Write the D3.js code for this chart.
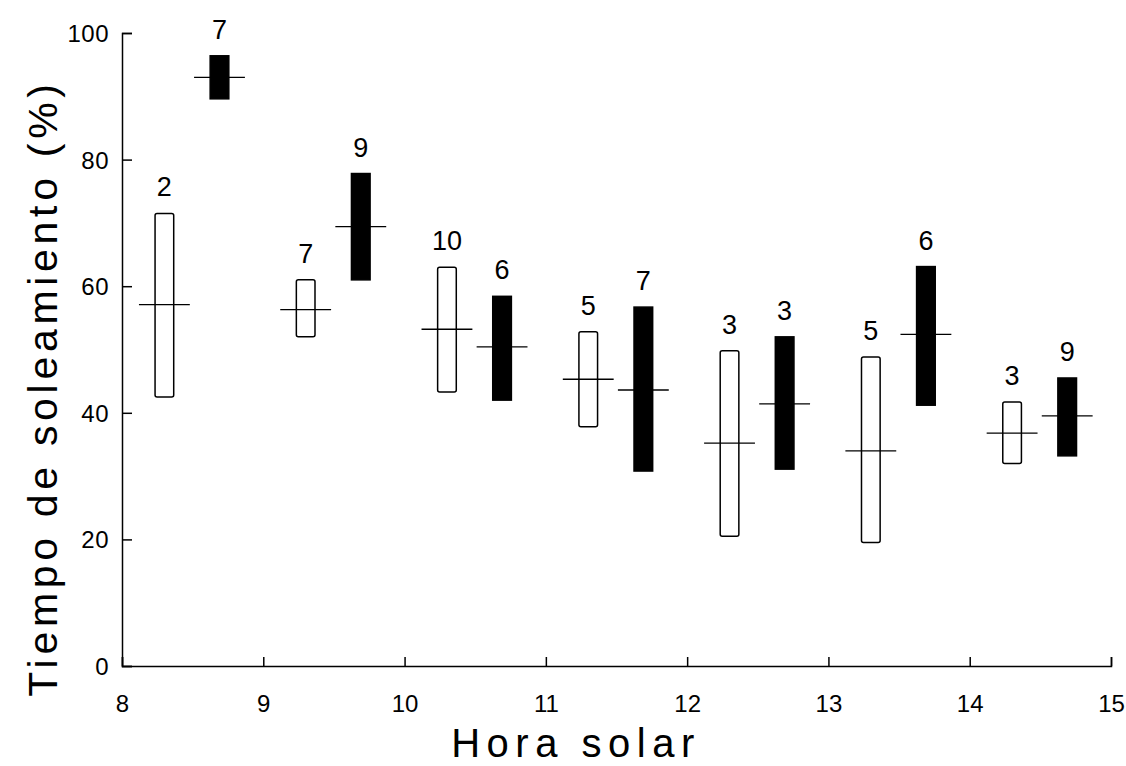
<!DOCTYPE html>
<html>
<head>
<meta charset="utf-8">
<script src="https://cdn.jsdelivr.net/npm/d3@7"></script>
<style>
  html, body { margin: 0; padding: 0; background: #fff; }
  svg { display: block; }
  text { font-family: "Liberation Sans", Arial, Helvetica, sans-serif; fill: #000; }
</style>
</head>
<body>
<svg id="chart" width="1126" height="766"></svg>
<script>
// Sunshine time (%) by solar hour: two groups per hour (open and filled bars)
const hours = [8, 9, 10, 11, 12, 13, 14];

// Open bars (first half of each hour)
const openTop    = [71.5, 61.0, 63.0, 52.8, 49.8, 48.8, 41.7];
const openBottom = [42.5, 52.0, 43.3, 37.8, 20.5, 19.5, 32.0];
const openMid    = [57.1, 56.3, 53.2, 45.3, 35.2, 34.0, 36.8];
const openN      = ["2", "7", "10", "5", "3", "5", "3"];

// Filled bars (second half of each hour)
const fillTop    = [96.4, 77.8, 58.4, 56.7, 52.0, 63.1, 45.5];
const fillBottom = [89.6, 61.0, 42.0, 30.8, 31.1, 41.2, 33.2];
const fillMid    = [93.0, 69.4, 50.4, 43.6, 41.4, 52.4, 39.5];
const fillN      = ["7", "9", "6", "7", "3", "6", "9"];

const xTicks = [8, 9, 10, 11, 12, 13, 14, 15];
const yTicks = [0, 20, 40, 60, 80, 100];

const svg = d3.select("#chart");
const x = d3.scaleLinear().domain([8, 15]).range([122, 1111]);
const y = d3.scaleLinear().domain([0, 100]).range([666, 33]);

const barW = 0.132;   // bar width in hours
const midW = 0.36;    // median line length in hours

const series = [
  { offset: 0.3, top: openTop, bottom: openBottom, mid: openMid, n: openN, fill: "#fff" },
  { offset: 0.69, top: fillTop, bottom: fillBottom, mid: fillMid, n: fillN, fill: "#000" }
];

// Axes with inward ticks
const gx = svg.append("g").attr("transform", `translate(0,${y(0)})`)
  .call(d3.axisBottom(x).tickValues(xTicks).tickSize(-9).tickPadding(0).tickFormat(d3.format("d")));
gx.select(".domain").attr("stroke", "#000").attr("stroke-width", 1.5);
gx.selectAll(".tick line").attr("stroke", "#000").attr("stroke-width", 1.5);
gx.selectAll(".tick text").attr("dy", null).attr("y", 46)
  .style("font-size", "24px");

const gy = svg.append("g").attr("transform", `translate(${x(8)},0)`)
  .call(d3.axisLeft(y).tickValues(yTicks).tickSize(-10).tickPadding(0).tickFormat(d3.format("d")));
gy.select(".domain").attr("stroke", "#000").attr("stroke-width", 1.5);
gy.selectAll(".tick line").attr("stroke", "#000").attr("stroke-width", 1.5);
gy.selectAll(".tick text").attr("x", -13).attr("dy", "0.35em")
  .style("font-size", "24px").style("letter-spacing", "0.5px");

// Bars, median marks and sample-size labels
series.forEach(s => {
  const g = svg.append("g");
  hours.forEach((h, i) => {
    const cx = h + s.offset;
    g.append("rect")
      .attr("x", x(cx - barW / 2))
      .attr("y", y(s.top[i]))
      .attr("width", x(cx + barW / 2) - x(cx - barW / 2))
      .attr("height", y(s.bottom[i]) - y(s.top[i]))
      .attr("rx", s.fill === "#fff" ? 2 : 0)
      .attr("fill", s.fill)
      .attr("stroke", "#000")
      .attr("stroke-width", 1.5);
    g.append("line")
      .attr("x1", x(cx - midW / 2)).attr("x2", x(cx + midW / 2))
      .attr("y1", y(s.mid[i])).attr("y2", y(s.mid[i]))
      .attr("stroke", "#000").attr("stroke-width", 1.3);
    g.append("text")
      .attr("x", x(cx))
      .attr("y", y(s.top[i]) - 17)
      .attr("text-anchor", "middle")
      .style("font-size", "27px")
      .text(s.n[i]);
  });
});

// Axis titles
svg.append("text")
  .attr("x", 576)
  .attr("y", 757)
  .attr("text-anchor", "middle")
  .style("font-size", "40px")
  .style("letter-spacing", "6.5px")
  .text("Hora solar");

svg.append("text")
  .attr("transform", `translate(57,388) rotate(-90)`)
  .attr("text-anchor", "middle")
  .style("font-size", "41px")
  .style("letter-spacing", "4.7px")
  .text("Tiempo de soleamiento (%)");
</script>
</body>
</html>
